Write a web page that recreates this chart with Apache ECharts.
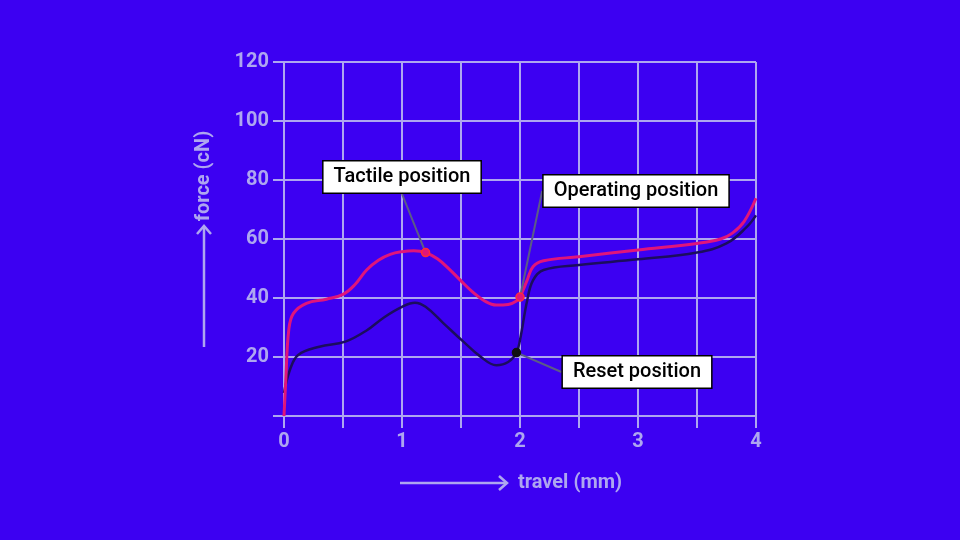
<!DOCTYPE html>
<html>
<head>
<meta charset="utf-8">
<style>
  html, body { margin: 0; padding: 0; background: #3c00f2; }
  #chart { width: 960px; height: 540px; }
</style>
<script src="https://cdn.jsdelivr.net/npm/echarts@6/dist/echarts.min.js"></script>
</head>
<body>
<div id="chart"></div>
<script>
// press curve (pink)
const pressTravel = [0, 0.015, 0.04, 0.08, 0.19, 0.36, 0.5, 0.6, 0.7, 0.8, 0.9, 1.0, 1.1, 1.2, 1.3, 1.4, 1.5, 1.6, 1.7, 1.8, 1.9, 1.97, 2.0, 2.06, 2.11, 2.2, 2.5, 3.0, 3.5, 3.7, 3.8, 3.9, 4.0]
const pressForce = [0, 12, 29, 34.8, 38.2, 39.6, 41.2, 44.5, 49.5, 52.8, 54.8, 55.7, 56, 55.4, 53.3, 49.8, 45.8, 42, 39, 37.6, 37.8, 39, 40.4, 46, 50.6, 52.6, 54, 56.3, 58.5, 60, 62, 66, 73.8]
// release curve (dark)
const releaseTravel = [0, 0.05, 0.12, 0.3, 0.52, 0.7, 0.85, 1.0, 1.11, 1.2, 1.35, 1.52, 1.66, 1.8, 1.9, 1.97, 2.0, 2.06, 2.11, 2.2, 2.5, 3.0, 3.5, 3.75, 3.92, 4.0]
const releaseForce = [7.8, 15.6, 20.7, 23.5, 25.2, 29, 33.5, 37, 38.4, 37, 31.5, 25.2, 20.3, 17.2, 18.3, 21.5, 25.8, 39, 46, 49.5, 51.2, 53.1, 55.4, 58.5, 64, 68]
// annotated points
const noteLabels = ['Tactile position', 'Operating position', 'Reset position']
const noteTravel = [1.2, 2.0, 1.97]
const noteForce = [55.4, 40.3, 21.5]
const xTicks = [0, 1, 2, 3, 4]
const yTicks = [20, 40, 60, 80, 100, 120]

const lavender = '#aea6f0'
const labelFont = 'Roboto, "DejaVu Sans", sans-serif'

// where the annotation boxes sit on the page
const notePlacement = [
  { x: 402, y: 177, color: '#e0157a', border: '#ff2a3a' },
  { x: 636, y: 191, color: '#e0157a', border: '#ff2a3a' },
  { x: 637, y: 372, color: '#111', border: '#111' }
]

function pairs(xs, ys) {
  return xs.map((x, i) => [x, ys[i]])
}

const chart = echarts.init(document.getElementById('chart'))

chart.setOption({
  backgroundColor: '#3c00f2',
  animation: false,
  grid: { left: 284, right: 204, top: 62, bottom: 124 },
  xAxis: {
    type: 'value',
    min: 0,
    max: 4,
    interval: 0.5,
    axisLine: { show: true, lineStyle: { color: lavender, width: 2 } },
    axisTick: { show: true, length: 12, lineStyle: { color: lavender, width: 2 } },
    splitLine: { show: true, lineStyle: { color: lavender, width: 2 } },
    axisLabel: {
      margin: 16,
      color: lavender,
      fontSize: 20,
      fontWeight: 'bold',
      fontFamily: labelFont,
      formatter: v => (xTicks.indexOf(v) >= 0 ? String(v) : '')
    }
  },
  yAxis: {
    type: 'value',
    min: 0,
    max: 120,
    interval: 20,
    axisLine: { show: true, lineStyle: { color: lavender, width: 2 } },
    axisTick: { show: true, length: 11, lineStyle: { color: lavender, width: 2 } },
    splitLine: { show: true, lineStyle: { color: lavender, width: 2 } },
    axisLabel: {
      margin: 15,
      color: lavender,
      fontSize: 20,
      fontWeight: 'bold',
      fontFamily: labelFont,
      formatter: v => (yTicks.indexOf(v) >= 0 ? String(v) : '')
    }
  },
  series: [
    {
      name: 'release',
      type: 'line',
      data: pairs(releaseTravel, releaseForce),
      smooth: 0.4,
      symbol: 'none',
      lineStyle: { color: '#1c0d5e', width: 2.5 },
      z: 2
    },
    {
      name: 'press',
      type: 'line',
      data: pairs(pressTravel, pressForce),
      smooth: 0.4,
      symbol: 'none',
      lineStyle: { color: '#e0157a', width: 3 },
      z: 3
    },
    {
      name: 'notes',
      type: 'scatter',
      symbolSize: 8,
      z: 5,
      data: noteLabels.map((name, i) => ({
        name: name,
        value: [noteTravel[i], noteForce[i]],
        itemStyle: { color: notePlacement[i].color, borderColor: notePlacement[i].border, borderWidth: 1.5, opacity: 1 }
      })),
      label: {
        show: true,
        formatter: p => p.name,
        color: '#000',
        fontSize: 20,
        fontWeight: 500,
        fontFamily: labelFont,
        backgroundColor: '#fff',
        borderColor: '#000',
        borderWidth: 1.5,
        padding: [6, 10, 5, 10]
      },
      labelLine: {
        show: true,
        lineStyle: { color: '#5c5c86', width: 2, opacity: 1 }
      },
      labelLayout: p => ({
        x: notePlacement[p.dataIndex].x,
        y: notePlacement[p.dataIndex].y,
        align: 'center',
        verticalAlign: 'middle'
      })
    }
  ],
  graphic: [
    // y axis title with arrow
    { type: 'line', shape: { x1: 204, y1: 347, x2: 204, y2: 226 }, style: { stroke: lavender, lineWidth: 2.5 } },
    { type: 'polyline', shape: { points: [[197, 234], [204, 226], [211, 234]] }, style: { stroke: lavender, lineWidth: 2.5, fill: null } },
    {
      type: 'text',
      x: 204,
      y: 176,
      rotation: Math.PI / 2,
      style: {
        text: 'force (cN)',
        fill: lavender,
        font: 'bold 20px ' + labelFont,
        align: 'center',
        verticalAlign: 'middle'
      }
    },
    // x axis title with arrow
    { type: 'line', shape: { x1: 400, y1: 483, x2: 507, y2: 483 }, style: { stroke: lavender, lineWidth: 2.5 } },
    { type: 'polyline', shape: { points: [[499, 476], [507, 483], [499, 490]] }, style: { stroke: lavender, lineWidth: 2.5, fill: null } },
    {
      type: 'text',
      x: 518,
      y: 483,
      style: {
        text: 'travel (mm)',
        fill: lavender,
        font: 'bold 20px ' + labelFont,
        align: 'left',
        verticalAlign: 'middle'
      }
    }
  ]
})
</script>
</body>
</html>
